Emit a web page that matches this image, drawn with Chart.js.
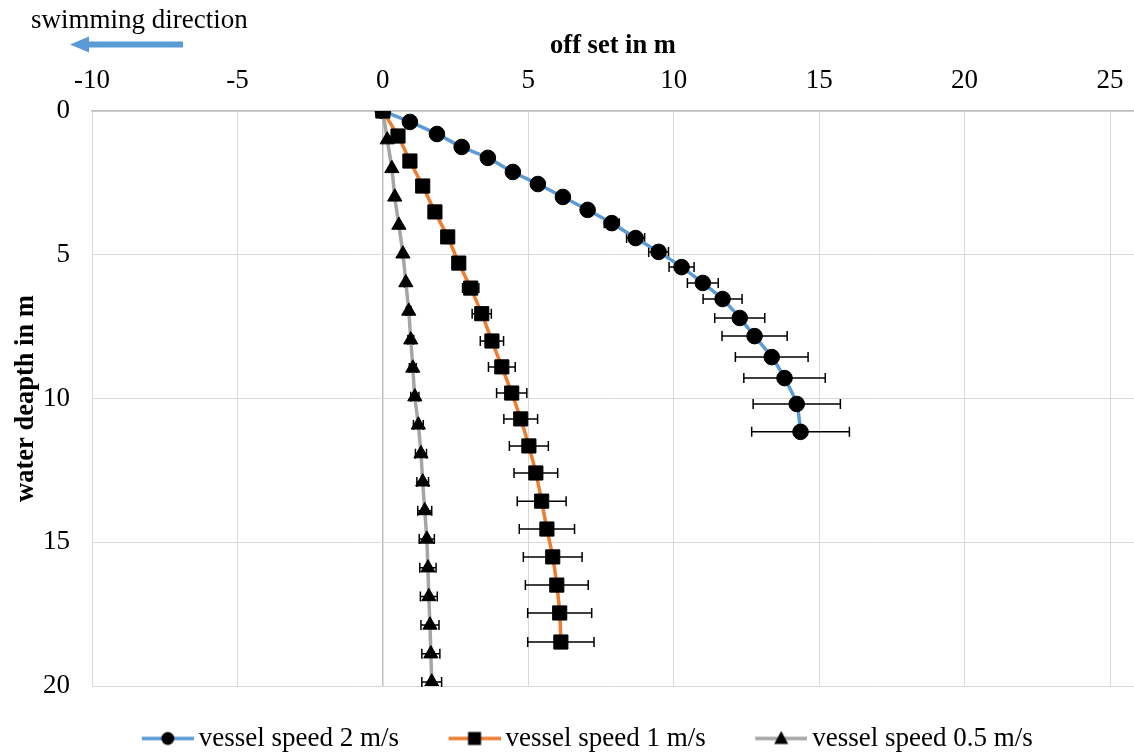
<!DOCTYPE html>
<html>
<head>
<meta charset="utf-8">
<script src="https://cdn.jsdelivr.net/npm/chart.js@4.4.1/dist/chart.umd.min.js"></script>
<style>
html,body{margin:0;padding:0;background:#fff;}
canvas{display:block;}
</style>
</head>
<body>
<canvas id="c" width="1134" height="752"></canvas>
<script>
// ---- data ----
const seriesNames = ['vessel speed 2 m/s', 'vessel speed 1 m/s', 'vessel speed 0.5 m/s'];

const offset2 = [0, 0.93, 1.86, 2.71, 3.61, 4.47, 5.33, 6.19, 7.04, 7.87, 8.69, 9.48, 10.27, 11.0, 11.68, 12.27, 12.78, 13.37, 13.81, 14.23, 14.36];
const depth2  = [0, 0.38, 0.8, 1.25, 1.63, 2.12, 2.54, 2.99, 3.44, 3.9, 4.42, 4.9, 5.43, 5.98, 6.54, 7.2, 7.83, 8.56, 9.29, 10.19, 11.16];
const err2    = [0, 0, 0, 0, 0, 0, 0.05, 0.1, 0.15, 0.26, 0.31, 0.34, 0.43, 0.53, 0.67, 0.86, 1.12, 1.25, 1.4, 1.5, 1.68];

const offset1 = [0, 0.52, 0.93, 1.37, 1.79, 2.23, 2.61, 3.02, 3.40, 3.75, 4.09, 4.43, 4.74, 5.02, 5.26, 5.46, 5.64, 5.84, 5.98, 6.08, 6.12];
const depth1  = [0, 0.87, 1.74, 2.61, 3.51, 4.38, 5.29, 6.16, 7.05, 8.0, 8.9, 9.81, 10.71, 11.65, 12.59, 13.57, 14.54, 15.51, 16.49, 17.46, 18.47];
const err1    = [0, 0, 0, 0, 0, 0, 0.1, 0.28, 0.33, 0.4, 0.46, 0.52, 0.58, 0.67, 0.75, 0.84, 0.95, 1.01, 1.08, 1.1, 1.14];

const offset05 = [0, 0.15, 0.31, 0.41, 0.55, 0.69, 0.79, 0.89, 0.96, 1.03, 1.10, 1.22, 1.31, 1.37, 1.44, 1.51, 1.55, 1.58, 1.62, 1.65, 1.68];
const depth05  = [0, 1.0, 2.0, 2.99, 3.97, 4.97, 5.97, 6.96, 7.96, 8.94, 9.94, 10.92, 11.92, 12.9, 13.9, 14.89, 15.89, 16.89, 17.88, 18.88, 19.86];
const err05    = [0, 0, 0, 0, 0, 0.03, 0.05, 0.08, 0.1, 0.12, 0.14, 0.17, 0.19, 0.2, 0.24, 0.26, 0.28, 0.29, 0.31, 0.31, 0.34];

const xTicks = [-10, -5, 0, 5, 10, 15, 20, 25];
const yTicks = [0, 5, 10, 15, 20];

const xTitle = 'off set in m';
const yTitle = 'water deapth in m';
const noteText = 'swimming direction';

// ---- styles ----
const colors = ['#5b9bd5', '#ed7d31', '#a5a5a5'];
const markers = ['circle', 'rect', 'triangle'];
const markerRadius = [7.8, 10, 8.2];
const SERIF = '"Liberation Serif", "Times New Roman", serif';
Chart.defaults.font.family = SERIF;
Chart.defaults.color = '#000';

function toPoints(xs, ys) { return xs.map((v, i) => ({x: v, y: ys[i]})); }

function legendIcon(idx) {
  const c = document.createElement('canvas');
  c.width = 71; c.height = 24;
  const g = c.getContext('2d');
  g.strokeStyle = colors[idx]; g.lineWidth = 3.5;
  g.beginPath(); g.moveTo(19, 12); g.lineTo(71, 12); g.stroke();
  g.fillStyle = '#000';
  const cx = 45, cy = 12;
  g.beginPath();
  if (idx === 0) { g.arc(cx, cy, 6.5, 0, Math.PI * 2); }
  else if (idx === 1) { g.rect(cx - 6.5, cy - 6.5, 13, 13); }
  else { g.moveTo(cx, cy - 7.5); g.lineTo(cx + 7, cy + 5.5); g.lineTo(cx - 7, cy + 5.5); g.closePath(); }
  g.fill();
  return c;
}
const icons = [legendIcon(0), legendIcon(1), legendIcon(2)];

const errorBars = {
  id: 'errorBars',
  beforeDatasetsDraw(chart) {
    const {ctx} = chart;
    const xs = chart.scales.x, ys = chart.scales.y;
    ctx.save();
    ctx.strokeStyle = '#000';
    ctx.lineWidth = 1.5;
    chart.data.datasets.forEach(ds => {
      const errs = ds.errorX;
      if (!errs) return;
      ds.data.forEach((p, j) => {
        const e = errs[j];
        if (!e) return;
        const x1 = xs.getPixelForValue(p.x - e);
        const x2 = xs.getPixelForValue(p.x + e);
        const py = ys.getPixelForValue(p.y);
        ctx.beginPath();
        ctx.moveTo(x1, py); ctx.lineTo(x2, py);
        ctx.moveTo(x1, py - 5); ctx.lineTo(x1, py + 5);
        ctx.moveTo(x2, py - 5); ctx.lineTo(x2, py + 5);
        ctx.stroke();
      });
    });
    ctx.restore();
  }
};

const swimNote = {
  id: 'swimNote',
  afterDraw(chart) {
    const {ctx} = chart;
    ctx.save();
    ctx.fillStyle = '#000';
    ctx.font = '27px ' + SERIF;
    ctx.textBaseline = 'alphabetic';
    ctx.textAlign = 'left';
    ctx.fillText(noteText, 31, 28);
    ctx.fillStyle = colors[0];
    ctx.fillRect(86, 41.5, 97, 6);
    ctx.beginPath();
    ctx.moveTo(70, 44.5); ctx.lineTo(89, 36.5); ctx.lineTo(89, 52.5); ctx.closePath();
    ctx.fill();
    ctx.restore();
  }
};

const datasets = [
  {label: seriesNames[0], data: toPoints(offset2, depth2), errorX: err2},
  {label: seriesNames[1], data: toPoints(offset1, depth1), errorX: err1},
  {label: seriesNames[2], data: toPoints(offset05, depth05), errorX: err05}
].map((d, i) => Object.assign(d, {
  showLine: true,
  borderColor: colors[i],
  borderWidth: 3.5,
  tension: 0.3,
  pointStyle: markers[i],
  pointRadius: markerRadius[i],
  pointBackgroundColor: '#000',
  pointBorderColor: '#000',
  pointBorderWidth: 1,
  order: [3, 1, 2][i]
}));

new Chart(document.getElementById('c'), {
  type: 'scatter',
  data: {datasets},
  options: {
    responsive: false,
    animation: false,
    devicePixelRatio: 1,
    layout: {autoPadding: false, padding: {top: 30, left: 30, right: 0, bottom: -10}},
    plugins: {
      tooltip: {enabled: false},
      legend: {
        position: 'bottom',
        labels: {
          usePointStyle: true,
          pointStyleWidth: 54,
          padding: 39,
          color: '#000',
          font: {size: 27, family: SERIF},
          sort: (a, b) => a.datasetIndex - b.datasetIndex,
          generateLabels(chart) {
            const items = Chart.defaults.plugins.legend.labels.generateLabels(chart);
            items.forEach(it => { it.pointStyle = icons[it.datasetIndex]; });
            return items;
          }
        }
      }
    },
    scales: {
      x: {
        type: 'linear',
        position: 'top',
        min: -10,
        max: 25.825,
        afterBuildTicks(scale) { scale.ticks = xTicks.map(v => ({value: v})); },
        afterFit(scale) { scale.height = 81; scale.paddingLeft = 0; scale.paddingRight = 0; },
        ticks: {font: {size: 27}, color: '#000', padding: 14, maxRotation: 0},
        grid: {
          drawTicks: false,
          color: ctx => (ctx.tick && ctx.tick.value === 0) ? '#bfbfbf' : '#d9d9d9',
          lineWidth: ctx => (ctx.tick && ctx.tick.value === 0) ? 1.5 : 1
        },
        border: {display: true, color: '#bfbfbf', width: 1.5},
        title: {display: true, text: xTitle, font: {size: 26.5, weight: 'bold'}, color: '#000', padding: {top: 0, bottom: 0}}
      },
      y: {
        type: 'linear',
        position: 'left',
        reverse: true,
        min: 0,
        max: 20,
        afterBuildTicks(scale) { scale.ticks = yTicks.map(v => ({value: v})); },
        afterFit(scale) { scale.width = 62; },
        ticks: {font: {size: 27}, color: '#000', padding: 22},
        grid: {drawTicks: false, color: '#d9d9d9', lineWidth: 1},
        border: {display: true, color: '#d9d9d9', width: 1},
        title: {display: true, text: yTitle, font: {size: 26.5, weight: 'bold'}, color: '#000', padding: {top: -20, bottom: 0}}
      }
    }
  },
  plugins: [errorBars, swimNote]
});
</script>
</body>
</html>
